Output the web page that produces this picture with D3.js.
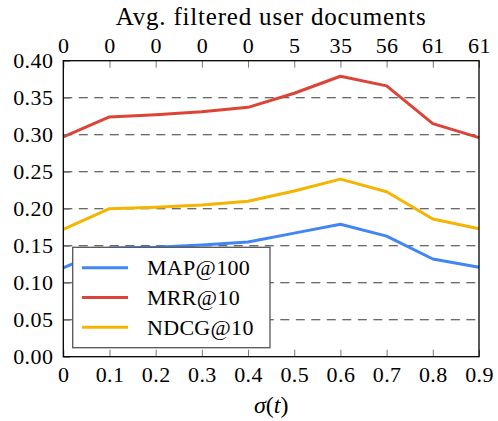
<!DOCTYPE html>
<html>
<head>
<meta charset="utf-8">
<script src="https://cdn.jsdelivr.net/npm/d3@7"></script>
<style>
  body { margin: 0; background: #fff; }
  svg { display: block; }
</style>
</head>
<body>
<svg width="498" height="421"></svg>
<script>
// sigma(t) values on the bottom axis
const sigma = [0, 0.1, 0.2, 0.3, 0.4, 0.5, 0.6, 0.7, 0.8, 0.9];
const sigmaLabels = ['0', '0.1', '0.2', '0.3', '0.4', '0.5', '0.6', '0.7', '0.8', '0.9'];
// average filtered user documents (top axis)
const avgDocs = ['0', '0', '0', '0', '0', '5', '35', '56', '61', '61'];
const yTicks = [0, 0.05, 0.1, 0.15, 0.2, 0.25, 0.3, 0.35, 0.4];

const seriesNames = ['MAP@100', 'MRR@10', 'NDCG@10'];
const mapVals = [0.120, 0.147, 0.148, 0.151, 0.155, 0.167, 0.179, 0.163, 0.132, 0.121];
const mrrVals = [0.297, 0.324, 0.327, 0.331, 0.337, 0.356, 0.379, 0.366, 0.315, 0.296];
const ndcgVals = [0.172, 0.200, 0.202, 0.205, 0.210, 0.224, 0.240, 0.223, 0.186, 0.173];

const COLORS = ['#4285f4', '#db4437', '#f4b400'];
const FONT = 22;
const FAMILY = 'Liberation Serif';
const LEFT = 63.3, RIGHT = 479, TOP = 60.7, BOTTOM = 356.7;
const TICK = 7;

const svg = d3.select('svg');

const x = d3.scaleLinear().domain([0, 0.9]).range([LEFT, RIGHT]);
const y = d3.scaleLinear().domain([0, 0.4]).range([BOTTOM, TOP]);

function serif(sel) {
    return sel.attr('font-family', FAMILY).attr('font-size', FONT).attr('fill', '#000');
}

// dashed grid
svg.append('g')
    .selectAll('line')
    .data(yTicks.filter(d => d > 0 && d < 0.4))
    .join('line')
    .attr('x1', LEFT).attr('x2', RIGHT)
    .attr('y1', d => y(d)).attr('y2', d => y(d))
    .attr('stroke', '#3a3a3a')
    .attr('stroke-width', 1.1)
    .attr('stroke-dasharray', '9,6.5');

// series
const series = [mapVals, mrrVals, ndcgVals];
const line = d3.line().x((d, i) => x(sigma[i])).y(d => y(d));
series.forEach(function (vals, k) {
    svg.append('path')
        .datum(vals)
        .attr('d', line)
        .attr('fill', 'none')
        .attr('stroke', COLORS[k])
        .attr('stroke-width', 3)
        .attr('stroke-linejoin', 'round');
});

// axes
const bottomAxis = d3.axisBottom(x).tickValues(sigma)
    .tickFormat((d, i) => sigmaLabels[i]).tickSizeInner(-TICK).tickSizeOuter(0).tickPadding(10);
const topAxis = d3.axisTop(x).tickValues(sigma)
    .tickFormat((d, i) => avgDocs[i]).tickSizeInner(-TICK).tickSizeOuter(0).tickPadding(8);
const leftAxis = d3.axisLeft(y).tickValues(yTicks)
    .tickFormat(d3.format('.2f')).tickSizeInner(-TICK).tickSizeOuter(0).tickPadding(10);

function styleAxis(g) {
    g.attr('font-family', FAMILY).attr('font-size', FONT);
    g.select('.domain').remove();
    g.selectAll('.tick line').attr('stroke', '#777').attr('stroke-width', 1);
    g.selectAll('.tick text').call(serif).attr('letter-spacing', 0.4);
}

svg.append('g').attr('transform', `translate(0,${BOTTOM})`).call(bottomAxis).call(styleAxis);
svg.append('g').attr('transform', `translate(0,${TOP})`).call(topAxis).call(styleAxis);
svg.append('g').attr('transform', `translate(${LEFT},0)`).call(leftAxis).call(styleAxis);

// frame
svg.append('rect')
    .attr('x', LEFT).attr('y', TOP)
    .attr('width', RIGHT - LEFT).attr('height', BOTTOM - TOP)
    .attr('fill', 'none')
    .attr('stroke', '#000')
    .attr('stroke-width', 1.3);

// axis titles
svg.append('text')
    .attr('x', (LEFT + RIGHT) / 2).attr('y', 25)
    .attr('text-anchor', 'middle')
    .call(serif)
    .attr('font-size', 25)
    .attr('letter-spacing', 0.8)
    .text('Avg. filtered user documents');

const xTitle = svg.append('text')
    .attr('x', (LEFT + RIGHT) / 2).attr('y', 413)
    .attr('text-anchor', 'middle')
    .call(serif)
    .attr('font-size', 24);
xTitle.append('tspan').attr('font-style', 'italic').text('σ');
xTitle.append('tspan').text('(');
xTitle.append('tspan').attr('font-style', 'italic').text('t');
xTitle.append('tspan').text(')');

// legend
const legend = svg.append('g');
legend.append('rect')
    .attr('x', 72.7).attr('y', 247.3)
    .attr('width', 197.3).attr('height', 100.4)
    .attr('fill', '#fff')
    .attr('stroke', '#555')
    .attr('stroke-width', 1.3);

seriesNames.forEach(function (name, k) {
    const cy = 267.7 + k * 29.8;
    legend.append('line')
        .attr('x1', 82).attr('x2', 128)
        .attr('y1', cy).attr('y2', cy)
        .attr('stroke', COLORS[k])
        .attr('stroke-width', 3);
    legend.append('text')
        .attr('x', 147).attr('y', cy)
        .attr('dy', '0.35em')
        .call(serif)
        .attr('letter-spacing', 0.3)
        .text(name);
});
</script>
</body>
</html>
